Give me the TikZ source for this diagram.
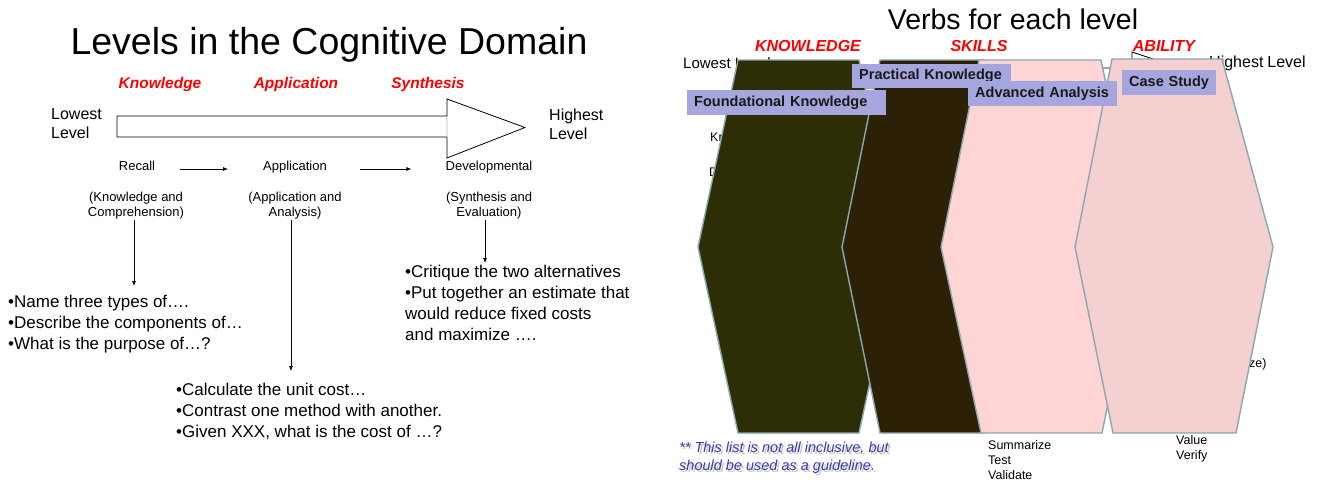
\documentclass[tikz,border=0pt]{standalone}
\usepackage{fontspec}
\setmainfont{Liberation Sans}
\usetikzlibrary{arrows.meta}
\newcommand\fsz[2]{\fontsize{#1}{#2}\selectfont}
\definecolor{boxfill}{HTML}{A6A6DE}
\definecolor{hexline}{HTML}{8AA8AD}
\definecolor{hexA}{HTML}{2E2E06}
\definecolor{hexB}{HTML}{2C2106}
\definecolor{hexC}{HTML}{FFD4D4}
\definecolor{hexD}{HTML}{F4D0D0}
\definecolor{footblue}{HTML}{3A3AB0}
\definecolor{seamblue}{HTML}{D6EAF2}
\begin{document}
\begin{tikzpicture}[x=1pt,y=-1pt,
  txt/.style={inner sep=0pt, text=black},
  redlbl/.style={inner sep=0pt, text=red, font=\fsz{15.5}{18}\bfseries\itshape},
  small/.style={txt, font=\fsz{13}{15}},
  bullets/.style={txt, anchor=north west, align=left, font=\fsz{17}{21}},
  hidden/.style={txt, font=\fsz{12.5}{15}},
  hexshape/.style={draw=hexline, line width=1.4pt},
  lbox/.style={fill=boxfill, anchor=north west, inner xsep=7pt, inner ysep=0pt,
     minimum height=25pt, align=left, font=\fsz{14.5}{17}\bfseries, text=black!90},
  arr/.style={-{Latex[length=5pt,width=4pt]}, line width=0.7pt},
  bigarrow/.style={draw=black, fill=white, line width=0.8pt}
]
\path[use as bounding box, fill=white] (0,0) rectangle (1320,480);

% ================= LEFT PANEL =================
\node[txt, anchor=base, font=\fsz{37.5}{40}] (title) at (329,54) {Levels in the Cognitive Domain};

\node[redlbl, anchor=base] (kLbl) at (160,88) {Knowledge};
\node[redlbl, anchor=base] (aLbl) at (296,88) {Application};
\node[redlbl, anchor=base] (sLbl) at (428,88) {Synthesis};

\node[txt, anchor=north west, align=left, font=\fsz{16}{19}] (lowest) at (51,108.3) {Lowest\\Level};
\node[txt, anchor=north west, align=left, font=\fsz{16}{19}] (highest) at (549,108.3) {Highest\\Level};

\draw[bigarrow] (117,116) -- (447,116) -- (447,99) -- (525,127.5) -- (447,158) -- (447,137) -- (117,137) -- cycle;
\draw[seamblue, line width=1.2pt] (447,117) -- (447,136);

\node[small, anchor=base] (recall) at (137,170) {Recall};
\node[small, anchor=base] (app) at (295,170) {Application};
\node[small, anchor=base] (dev) at (489,170) {Developmental};

\draw[arr] ([xshift=25pt,yshift=1pt]recall.base east) -- ([xshift=-35pt,yshift=1pt]app.base west);
\draw[arr] ([xshift=33pt,yshift=1pt]app.base east) -- ([xshift=-34pt,yshift=1pt]dev.base west);

\node[small, anchor=north, align=center] (kc) at (136,192.3) {(Knowledge and\\Comprehension)};
\node[small, anchor=north, align=center] (aa) at (295,192.3) {(Application and\\Analysis)};
\node[small, anchor=north, align=center] (se) at (489,192.3) {(Synthesis and\\Evaluation)};

\node[bullets] (list1) at (8,294.5) {•Name three types of….\\•Describe the components of…\\•What is the purpose of…?};
\node[bullets] (list2) at (176,382.5) {•Calculate the unit cost…\\•Contrast one method with another.\\•Given XXX, what is the cost of …?};
\node[bullets] (list3) at (405,264.5) {•Critique the two alternatives\\•Put together an estimate that\\would reduce fixed costs\\and maximize ….};

\coordinate (e1) at (134,286);
\coordinate (e2) at (291,371);
\coordinate (e3) at (485,263);
\draw[arr] (kc.south -| e1) -- (e1);
\draw[arr] (aa.south -| e2) -- (e2);
\draw[arr] (se.south -| e3) -- (e3);

% ================= RIGHT PANEL =================
\node[txt, anchor=base, font=\fsz{28.5}{32}] (verbs) at (1013,29) {Verbs for each level};

\node[redlbl, anchor=base, font=\fsz{16}{18}\bfseries\itshape] (knLbl) at (808,51.5) {KNOWLEDGE};
\node[redlbl, anchor=base, font=\fsz{16}{18}\bfseries\itshape] (skLbl) at (979,51.5) {SKILLS};
\node[redlbl, anchor=base, font=\fsz{16}{18}\bfseries\itshape] (abLbl) at (1164,51.5) {ABILITY};

% layer hidden behind the hexagons
\node[txt, anchor=base west, font=\fsz{15}{18}] (lowR) at (683,68) {Lowest Level};
\node[txt, anchor=base west, font=\fsz{16}{18}] (highR) at (1209,67) {Highest\hspace{4pt}Level};
\draw[bigarrow] (750,68) -- (1132,68) -- (1132,52) -- (1210,78) -- (1132,104) -- (1132,88) -- (750,88) -- cycle;
\node[hidden, anchor=base west] (kn) at (710,141.5) {Kn};
\node[hidden, anchor=base west] (dd) at (709,176.5) {D};
\node[hidden, anchor=base west] (ze) at (1249,367) {ze)};
\node[hidden, anchor=north west, align=left] (sumlist) at (988,440.5) {Summarize\\Test\\Validate};
\node[hidden, anchor=north west, align=left] (vallist) at (1176,435.5) {Value\\Verify};

% hexagons
\draw[hexshape, fill=hexA] (738,60) -- (859,60) -- (899,247) -- (859,433) -- (738,433) -- (698,247) -- cycle;
\draw[hexshape, fill=hexB] (880,60) -- (985,60) -- (1023,247) -- (985,433) -- (880,433) -- (842,247) -- cycle;
\draw[hexshape, fill=hexC] (979,60) -- (1101,60) -- (1140,247) -- (1102,433) -- (981,433) -- (941,247) -- cycle;
\draw[hexshape, fill=hexD] (1112,59) -- (1222,59) -- (1273,247) -- (1236,433) -- (1113,433) -- (1075,247) -- cycle;

% label boxes
\node[lbox, text width=185pt] (found) at (687,90) {Foundational Knowledge};
\node[lbox, text width=145pt, minimum height=24pt] (pract) at (852,64) {Practical Knowledge};
\node[lbox, text width=135pt] (adv) at (968,81) {Advanced Analysis};
\node[lbox, text width=80pt] (case) at (1122,70) {Case Study};

% footnote
\node[txt, anchor=north west, align=left, font=\fsz{14.5}{18}\itshape, text=gray, opacity=0.45] (footShadow) at (681,444) {** This list is not all inclusive, but\\should be used as a guideline.};
\node[txt, anchor=north west, align=left, font=\fsz{14.5}{18}\itshape, text=footblue] (foot) at (679,441.5) {** This list is not all inclusive, but\\should be used as a guideline.};
\end{tikzpicture}
\end{document}
